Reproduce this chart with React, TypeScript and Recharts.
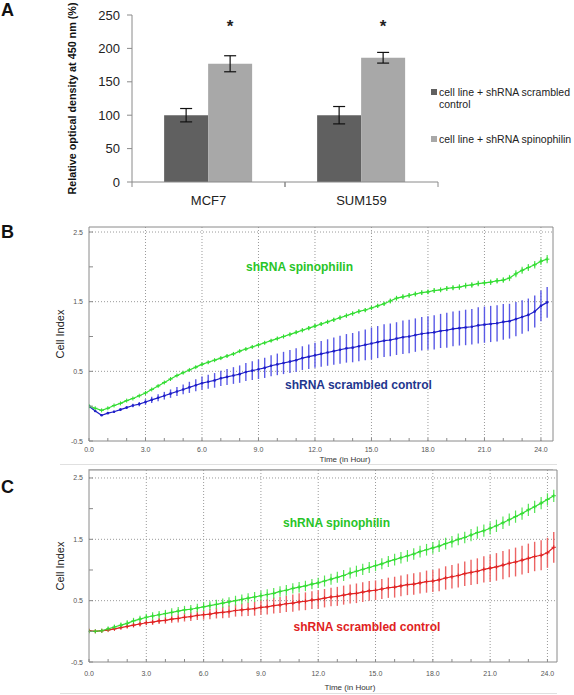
import React from 'react'
import {
  BarChart, Bar, XAxis, YAxis, ErrorBar, LabelList,
  ComposedChart, Line, CartesianGrid, ReferenceLine, ReferenceDot,
} from 'recharts'

// ---- panel A: relative optical density at 450 nm ----
const CELL_LINES = ['MCF7', 'SUM159']
const SCRAMBLED_OD = [100, 100]
const SCRAMBLED_OD_ERR = [10, 13]
const SPINO_OD = [177, 186]
const SPINO_OD_ERR = [12, 8]
const SIGNIFICANT = ['*', '*']
const OD_TICKS = [0, 50, 100, 150, 200, 250]
const SCRAMBLED_NAME = 'cell line + shRNA scrambled control'
const SPINO_NAME = 'cell line + shRNA spinophilin'

// ---- panels B and C: cell index over time ----
const HOURS = [
  0, 0.33, 0.67, 1, 1.33, 1.67, 2, 2.33, 2.67, 3,
  3.33, 3.67, 4, 4.33, 4.67, 5, 5.33, 5.67, 6,
  6.33, 6.67, 7, 7.33, 7.67, 8, 8.33, 8.67, 9,
  9.33, 9.67, 10, 10.33, 10.67, 11, 11.33, 11.67, 12,
  12.33, 12.67, 13, 13.33, 13.67, 14, 14.33, 14.67, 15,
  15.33, 15.67, 16, 16.33, 16.67, 17, 17.33, 17.67, 18,
  18.33, 18.67, 19, 19.33, 19.67, 20, 20.33, 20.67, 21,
  21.33, 21.67, 22, 22.33, 22.67, 23, 23.33, 23.67, 24,
  24.33,
]

const B_SPINO = [
  0.00, -0.03, -0.06, -0.03, 0.01, 0.04, 0.08, 0.11, 0.15, 0.19,
  0.24, 0.29, 0.34, 0.39, 0.44, 0.48, 0.52, 0.56, 0.60,
  0.63, 0.66, 0.69, 0.72, 0.75, 0.79, 0.82, 0.85, 0.88,
  0.91, 0.94, 0.97, 1.00, 1.03, 1.06, 1.09, 1.12, 1.15,
  1.18, 1.21, 1.24, 1.27, 1.30, 1.33, 1.36, 1.38, 1.41,
  1.44, 1.47, 1.51, 1.55, 1.57, 1.59, 1.61, 1.63, 1.64,
  1.66, 1.67, 1.69, 1.70, 1.71, 1.73, 1.74, 1.76, 1.77,
  1.78, 1.80, 1.81, 1.84, 1.90, 1.95, 1.99, 2.03, 2.08,
  2.11,
]
const B_SPINO_ERR = [
  0, 0, 0.01, 0.01, 0.01, 0.01, 0.01, 0.01, 0.01, 0.01,
  0.01, 0.01, 0.015, 0.015, 0.015, 0.015, 0.015, 0.015, 0.02,
  0.02, 0.02, 0.02, 0.02, 0.02, 0.02, 0.02, 0.02, 0.02,
  0.02, 0.02, 0.025, 0.025, 0.025, 0.025, 0.03, 0.03, 0.03,
  0.03, 0.03, 0.03, 0.03, 0.03, 0.03, 0.03, 0.03, 0.03,
  0.03, 0.03, 0.035, 0.035, 0.035, 0.035, 0.035, 0.035, 0.035,
  0.035, 0.035, 0.035, 0.035, 0.04, 0.04, 0.04, 0.04, 0.04,
  0.04, 0.04, 0.04, 0.045, 0.05, 0.05, 0.05, 0.055, 0.055,
  0.06,
]
const B_SCRAMBLED = [
  0.00, -0.07, -0.13, -0.10, -0.08, -0.05, -0.02, 0.01, 0.03, 0.06,
  0.09, 0.12, 0.15, 0.18, 0.21, 0.24, 0.27, 0.30, 0.33,
  0.35, 0.37, 0.40, 0.42, 0.44, 0.46, 0.49, 0.51, 0.53,
  0.55, 0.58, 0.60, 0.62, 0.64, 0.66, 0.69, 0.71, 0.73,
  0.75, 0.77, 0.79, 0.81, 0.83, 0.84, 0.86, 0.88, 0.90,
  0.92, 0.94, 0.95, 0.97, 0.99, 1.00, 1.02, 1.04, 1.05,
  1.06, 1.08, 1.09, 1.11, 1.12, 1.13, 1.14, 1.16, 1.17,
  1.18, 1.19, 1.21, 1.22, 1.25, 1.28, 1.31, 1.36, 1.44,
  1.49,
]
const B_SCRAMBLED_ERR = [
  0, 0, 0.01, 0.01, 0.015, 0.02, 0.02, 0.025, 0.03, 0.04,
  0.045, 0.05, 0.055, 0.06, 0.065, 0.07, 0.08, 0.085, 0.095,
  0.10, 0.105, 0.11, 0.115, 0.12, 0.125, 0.13, 0.135, 0.14,
  0.145, 0.15, 0.155, 0.16, 0.165, 0.17, 0.17, 0.175, 0.18,
  0.185, 0.19, 0.195, 0.20, 0.205, 0.21, 0.215, 0.22, 0.23,
  0.23, 0.235, 0.235, 0.235, 0.24, 0.24, 0.24, 0.24, 0.24,
  0.245, 0.245, 0.25, 0.25, 0.25, 0.255, 0.255, 0.26, 0.26,
  0.26, 0.26, 0.255, 0.25, 0.245, 0.24, 0.235, 0.23, 0.22,
  0.22,
]

const C_SPINO = [
  0.00, 0.00, 0.01, 0.04, 0.07, 0.10, 0.13, 0.17, 0.20, 0.23,
  0.25, 0.27, 0.29, 0.31, 0.33, 0.35, 0.36, 0.38, 0.40,
  0.42, 0.44, 0.46, 0.48, 0.50, 0.52, 0.54, 0.56, 0.58,
  0.60, 0.62, 0.65, 0.67, 0.70, 0.72, 0.74, 0.77, 0.79,
  0.82, 0.85, 0.88, 0.91, 0.95, 0.98, 1.01, 1.04, 1.07,
  1.10, 1.14, 1.17, 1.20, 1.23, 1.26, 1.30, 1.33, 1.36,
  1.39, 1.43, 1.46, 1.50, 1.53, 1.57, 1.61, 1.64, 1.68,
  1.72, 1.77, 1.82, 1.87, 1.92, 1.98, 2.03, 2.09, 2.15,
  2.21,
]
const C_SPINO_ERR = [
  0.01, 0.02, 0.03, 0.04, 0.04, 0.045, 0.05, 0.05, 0.055, 0.055,
  0.06, 0.06, 0.06, 0.065, 0.065, 0.065, 0.07, 0.07, 0.07,
  0.07, 0.075, 0.075, 0.075, 0.08, 0.08, 0.08, 0.08, 0.08,
  0.085, 0.085, 0.085, 0.085, 0.085, 0.085, 0.085, 0.085, 0.085,
  0.09, 0.09, 0.09, 0.09, 0.09, 0.09, 0.09, 0.09, 0.09,
  0.09, 0.09, 0.095, 0.095, 0.095, 0.095, 0.095, 0.095, 0.095,
  0.095, 0.095, 0.095, 0.095, 0.095, 0.1, 0.1, 0.1, 0.1,
  0.1, 0.1, 0.1, 0.1, 0.1, 0.1, 0.1, 0.1, 0.1,
  0.1,
]
const C_SCRAMBLED = [
  0.01, 0.00, 0.01, 0.02, 0.04, 0.06, 0.08, 0.10, 0.12, 0.14,
  0.15, 0.17, 0.18, 0.20, 0.21, 0.23, 0.24, 0.26, 0.27,
  0.28, 0.30, 0.31, 0.32, 0.34, 0.35, 0.36, 0.37, 0.39,
  0.40, 0.42, 0.43, 0.45, 0.46, 0.48, 0.49, 0.51, 0.52,
  0.54, 0.56, 0.57, 0.59, 0.61, 0.62, 0.64, 0.66, 0.67,
  0.69, 0.71, 0.72, 0.74, 0.76, 0.77, 0.79, 0.81, 0.82,
  0.84, 0.87, 0.89, 0.91, 0.94, 0.96, 0.98, 1.01, 1.03,
  1.05, 1.08, 1.11, 1.13, 1.16, 1.19, 1.22, 1.24, 1.28,
  1.37,
]
const C_SCRAMBLED_ERR = [
  0, 0, 0.01, 0.015, 0.02, 0.025, 0.03, 0.035, 0.04, 0.04,
  0.045, 0.05, 0.055, 0.06, 0.065, 0.07, 0.07, 0.075, 0.08,
  0.085, 0.09, 0.095, 0.10, 0.10, 0.105, 0.11, 0.115, 0.12,
  0.125, 0.13, 0.13, 0.135, 0.14, 0.14, 0.145, 0.145, 0.15,
  0.15, 0.15, 0.155, 0.155, 0.155, 0.16, 0.16, 0.16, 0.16,
  0.165, 0.165, 0.17, 0.17, 0.17, 0.175, 0.175, 0.18, 0.18,
  0.185, 0.19, 0.19, 0.195, 0.20, 0.205, 0.21, 0.215, 0.22,
  0.225, 0.23, 0.23, 0.235, 0.235, 0.24, 0.24, 0.245, 0.245,
  0.25,
]

const HOUR_TICKS = [0, 1, 2, 3, 4, 5, 6, 7, 8, 9, 10, 11, 12, 13, 14, 15, 16, 17, 18, 19, 20, 21, 22, 23, 24]
const HOUR_GRID = [3, 6, 9, 12, 15, 18, 21, 24]
const CI_TICKS = [-0.5, 0, 0.5, 1, 1.5, 2, 2.5]
const CI_LABELED = [-0.5, 0.5, 1.5, 2.5]
const CI_GRID = [0.5, 1.5, 2.5]

const FONT = '"Liberation Sans", Arial, sans-serif'
const DARK = '#606060'
const LIGHT = '#a8a8a8'
const GREEN = '#33dd33'
const GREEN_ERR = '#55e455'
const GREEN_TEXT = '#28c428'
const BLUE = '#1e1ec8'
const BLUE_ERR = '#5a5ae6'
const BLUE_TEXT = '#22368e'
const RED = '#e02222'
const RED_ERR = '#ec6464'
const AXIS = '#8a8a8a'
const GRID = '#9a9a9a'

const odData = CELL_LINES.map((name, i) => ({
  name,
  scr: SCRAMBLED_OD[i],
  scrErr: SCRAMBLED_OD_ERR[i],
  spi: SPINO_OD[i],
  spiErr: SPINO_OD_ERR[i],
  sig: SIGNIFICANT[i],
}))

const buildRows = (spi: number[], spiErr: number[], scr: number[], scrErr: number[]) =>
  HOURS.map((t, i) => ({ t, spi: spi[i], spiErr: spiErr[i], scr: scr[i], scrErr: scrErr[i] }))

const bData = buildRows(B_SPINO, B_SPINO_ERR, B_SCRAMBLED, B_SCRAMBLED_ERR)
const cData = buildRows(C_SPINO, C_SPINO_ERR, C_SCRAMBLED, C_SCRAMBLED_ERR)

// panel A layout
const A_W = 574
const A_MARGIN = { top: 15, right: 136, bottom: 0, left: 82 }
const A_YAXIS_W = 50
const A_BAND_HALF = (A_W - A_MARGIN.left - A_MARGIN.right - A_YAXIS_W) / CELL_LINES.length / 2

function CategoryTick(props: any) {
  const { x, y, payload } = props
  return (
    <g>
      <line x1={x - A_BAND_HALF} x2={x - A_BAND_HALF} y1={y} y2={y + 5} stroke={AXIS} />
      <line x1={x + A_BAND_HALF} x2={x + A_BAND_HALF} y1={y} y2={y + 5} stroke={AXIS} />
      <text x={x} y={y + 23} textAnchor="middle" fontSize={13} fill="#222" fontFamily={FONT}>
        {payload.value}
      </text>
    </g>
  )
}

function Star(props: any) {
  const { x, width, value } = props
  return (
    <text x={x + width / 2} y={32} textAnchor="middle" fontSize={17} fontWeight="bold" fill="#222" fontFamily={FONT}>
      {value}
    </text>
  )
}

function PanelA() {
  return (
    <BarChart width={A_W} height={215} data={odData} margin={A_MARGIN} barCategoryGap="21%" barGap={0}>
      <XAxis
        dataKey="name"
        height={33}
        interval={0}
        axisLine={{ stroke: AXIS }}
        tickLine={false}
        tickSize={0}
        tickMargin={0}
        tick={<CategoryTick />}
      />
      <YAxis
        width={A_YAXIS_W}
        domain={[0, 250]}
        ticks={OD_TICKS}
        interval={0}
        axisLine={{ stroke: AXIS }}
        tickLine={{ stroke: AXIS }}
        tickSize={5}
        tickMargin={7}
        tick={{ fontSize: 13, fill: '#222', fontFamily: FONT }}
        label={{
          content: (p: any) => {
            const vb = p.viewBox
            const cy = vb.y + vb.height / 2
            return (
              <text
                transform={`translate(${vb.x - 10}, ${cy}) rotate(-90)`}
                textAnchor="middle"
                dominantBaseline="central"
                fontSize={10.5}
                fontWeight="bold"
                fill="#111"
                fontFamily={FONT}
                textLength={192}
                lengthAdjust="spacingAndGlyphs"
              >
                Relative optical density at 450 nm (%)
              </text>
            )
          },
        }}
      />
      <Bar dataKey="scr" name={SCRAMBLED_NAME} fill={DARK} isAnimationActive={false}>
        <ErrorBar dataKey="scrErr" width={6} stroke="#111" strokeWidth={1.2} direction="y" />
      </Bar>
      <Bar dataKey="spi" name={SPINO_NAME} fill={LIGHT} isAnimationActive={false}>
        <ErrorBar dataKey="spiErr" width={6} stroke="#111" strokeWidth={1.2} direction="y" />
        <LabelList dataKey="sig" content={<Star />} />
      </Bar>
    </BarChart>
  )
}

function LegendA() {
  const items = [
    { name: SCRAMBLED_NAME, color: DARK },
    { name: SPINO_NAME, color: LIGHT },
  ]
  return (
    <div style={{ position: 'absolute', left: 431, top: 86, width: 143, fontFamily: FONT, fontSize: 10.5, color: '#222' }}>
      {items.map((it, i) => (
        <div key={it.name} style={{ display: 'flex', alignItems: 'flex-start', marginBottom: i === 0 ? 23 : 0, lineHeight: '12px' }}>
          <span style={{ width: 6, height: 6, background: it.color, marginTop: 3, marginRight: 2, flex: 'none' }} />
          <span>{it.name}</span>
        </div>
      ))}
    </div>
  )
}

function PlusDot(props: any) {
  const { cx, cy, stroke } = props
  if (cx == null || cy == null) return null
  return <path d={`M${cx - 2.2},${cy}H${cx + 2.2}M${cx},${cy - 2}V${cy + 2}`} stroke={stroke} strokeWidth={1} fill="none" />
}

function HourTick(props: any) {
  const { x, y, payload, labelDy } = props
  const h = payload.value
  return (
    <g>
      <line x1={x} x2={x} y1={y} y2={y - 3} stroke={AXIS} />
      {h % 3 === 0 && (
        <text x={x} y={y + labelDy} textAnchor="middle" fontSize={7} fill="#555" fontFamily={FONT}>
          {h.toFixed(1)}
        </text>
      )}
    </g>
  )
}

function CiTick(props: any) {
  const { x, y, payload } = props
  const v = payload.value
  const major = CI_LABELED.includes(v)
  return (
    <g>
      <line x1={x} x2={x + 4} y1={y} y2={y} stroke={AXIS} />
      {major && (
        <text x={x - 6} y={y + 2.5} textAnchor="end" fontSize={7} fill="#555" fontFamily={FONT}>
          {v.toFixed(1)}
        </text>
      )}
    </g>
  )
}

interface CellIndexProps {
  data: any[]
  height: number
  xMax: number
  yMax: number
  rightMargin: number
  xAxisHeight: number
  tickLabelDy: number
  timeTitleDx: number
  timeTitleDy: number
  scrColor: string
  scrErrColor: string
  scrTextColor: string
  spiLabel: { x: number; y: number }
  scrLabel: { x: number; y: number }
  plusMarkers: boolean
}

function annotation(text: string, color: string) {
  return {
    content: (p: any) => {
      const vb = p.viewBox
      return (
        <text
          x={vb.x + (vb.width || 0) / 2}
          y={vb.y + (vb.height || 0) / 2}
          textAnchor="middle"
          dominantBaseline="central"
          fontSize={12}
          fontWeight="bold"
          fill={color}
          fontFamily={FONT}
        >
          {text}
        </text>
      )
    },
  }
}

function CellIndexChart(p: CellIndexProps) {
  return (
    <ComposedChart width={574} height={p.height} data={p.data} margin={{ top: 12, right: p.rightMargin, bottom: 0, left: 40 }}>
      <CartesianGrid
        stroke={GRID}
        strokeDasharray="1 2"
        horizontalValues={CI_GRID}
        verticalValues={HOUR_GRID}
      />
      <XAxis
        type="number"
        dataKey="t"
        domain={[0, p.xMax]}
        allowDataOverflow
        ticks={HOUR_TICKS}
        interval={0}
        height={p.xAxisHeight}
        axisLine={{ stroke: AXIS }}
        tickLine={false}
        tickSize={0}
        tickMargin={0}
        tick={<HourTick labelDy={p.tickLabelDy} />}
        label={{
          content: (lp: any) => {
            const vb = lp.viewBox
            return (
              <text x={vb.x + p.timeTitleDx} y={vb.y + p.timeTitleDy} textAnchor="middle" fontSize={8} fill="#333" fontFamily={FONT}>
                Time (in Hour)
              </text>
            )
          },
        }}
      />
      <YAxis
        type="number"
        domain={[-0.5, p.yMax]}
        allowDataOverflow
        ticks={CI_TICKS}
        interval={0}
        width={49}
        axisLine={{ stroke: AXIS }}
        tickLine={false}
        tickSize={0}
        tickMargin={0}
        tick={<CiTick />}
        label={{
          content: (lp: any) => {
            const vb = lp.viewBox
            const cy = vb.y + vb.height / 2
            return (
              <text transform={`translate(60, ${cy}) rotate(-90)`} textAnchor="middle" dominantBaseline="central" fontSize={11} fill="#222" fontFamily={FONT}>
                Cell Index
              </text>
            )
          },
        }}
      />
      <ReferenceLine y={p.yMax} stroke={AXIS} />
      <ReferenceLine x={p.xMax} stroke={AXIS} />
      <Line
        dataKey="scr"
        stroke={p.scrColor}
        strokeWidth={1.2}
        dot={p.plusMarkers ? <PlusDot /> : { r: 1.3, fill: p.scrColor, strokeWidth: 0 }}
        isAnimationActive={false}
      >
        <ErrorBar dataKey="scrErr" width={0} stroke={p.scrErrColor} strokeWidth={1.4} direction="y" />
      </Line>
      <Line dataKey="spi" stroke={GREEN} strokeWidth={1.2} dot={<PlusDot />} isAnimationActive={false}>
        <ErrorBar dataKey="spiErr" width={0} stroke={GREEN_ERR} strokeWidth={1.2} direction="y" />
      </Line>
      <ReferenceDot x={p.spiLabel.x} y={p.spiLabel.y} r={0} fill="none" stroke="none" label={annotation('shRNA  spinophilin', GREEN_TEXT)} />
      <ReferenceDot x={p.scrLabel.x} y={p.scrLabel.y} r={0} fill="none" stroke="none" label={annotation('shRNA  scrambled control', p.scrTextColor)} />
    </ComposedChart>
  )
}

const letterStyle: React.CSSProperties = {
  position: 'absolute',
  left: 1,
  fontFamily: FONT,
  fontWeight: 'bold',
  fontSize: 18,
  lineHeight: '18px',
  color: '#111',
}

export default function App() {
  return (
    <div style={{ position: 'absolute', left: 0, top: 0, width: 574, height: 695, background: '#fff', overflow: 'hidden' }}>
      <div style={{ ...letterStyle, top: 1 }}>A</div>
      <div style={{ ...letterStyle, top: 223 }}>B</div>
      <div style={{ ...letterStyle, top: 478 }}>C</div>

      <div style={{ position: 'absolute', left: 0, top: 0 }}>
        <PanelA />
      </div>
      <LegendA />

      <div style={{ position: 'absolute', left: 88, top: 469, width: 465, height: 1, background: '#cfcfcf' }} />
      <div style={{ position: 'absolute', left: 60, top: 464, width: 497, height: 1, background: '#e0e0e0' }} />
      <div style={{ position: 'absolute', left: 60, top: 693, width: 497, height: 1, background: '#e0e0e0' }} />

      <div style={{ position: 'absolute', left: 0, top: 215 }}>
        <CellIndexChart
          data={bData}
          height={260}
          xMax={24.64}
          yMax={2.572}
          rightMargin={21}
          xAxisHeight={34}
          tickLabelDy={10.5}
          timeTitleDx={256}
          timeTitleDy={21}
          scrColor={BLUE}
          scrErrColor={BLUE_ERR}
          scrTextColor={BLUE_TEXT}
          spiLabel={{ x: 11.18, y: 2.0 }}
          scrLabel={{ x: 14.31, y: 0.3 }}
          plusMarkers={false}
        />
      </div>

      <div style={{ position: 'absolute', left: 0, top: 458 }}>
        <CellIndexChart
          data={cData}
          height={237}
          xMax={24.5}
          yMax={2.63}
          rightMargin={17}
          xAxisHeight={33}
          tickLabelDy={13.5}
          timeTitleDx={261}
          timeTitleDy={28}
          scrColor={RED}
          scrErrColor={RED_ERR}
          scrTextColor={RED}
          spiLabel={{ x: 12.96, y: 1.77 }}
          scrLabel={{ x: 14.55, y: 0.07 }}
          plusMarkers={true}
        />
      </div>
    </div>
  )
}
